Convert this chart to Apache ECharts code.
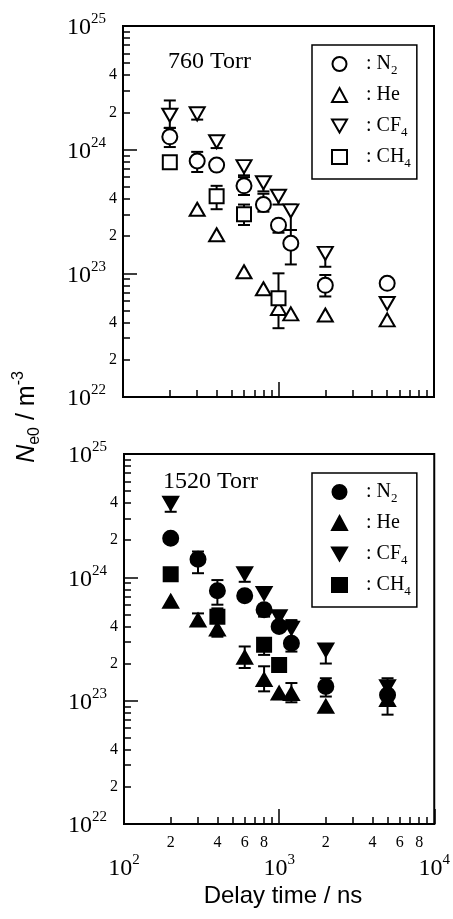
<!DOCTYPE html>
<html>
<head>
<meta charset="utf-8">
<script src="https://cdn.jsdelivr.net/npm/echarts@6/dist/echarts.min.js"></script>
<style>
  html, body { margin: 0; background: #fff; }
  #main { width: 453px; height: 919px; }
</style>
</head>
<body>
<div id="main"></div>
<script>
// each point: [delay time ns, Ne0 m^-3, error low, error high]  (null = no bar on that side)
const n2_760 = [
  [200, 1.27e24, 1.05e24, 1.5e24],
  [300, 8.1e23, 6.6e23, 9.6e23],
  [400, 7.5e23, null, null],
  [600, 5.1e23, 4.3e23, 6.0e23],
  [800, 3.6e23, 3.15e23, 4.4e23],
  [1000, 2.45e23, 2.13e23, 2.7e23],
  [1200, 1.75e23, 1.18e23, 2.24e23],
  [2000, 8.0e22, 6.5e22, 9.7e22],
  [5000, 8.3e22, null, null]
];
const he_760 = [
  [300, 3.3e23, null, null],
  [400, 2.05e23, null, null],
  [600, 1.03e23, null, null],
  [800, 7.5e22, null, null],
  [1000, 5.2e22, null, null],
  [1200, 4.7e22, null, null],
  [2000, 4.6e22, null, null],
  [5000, 4.2e22, null, null]
];
const cf4_760 = [
  [200, 1.9e24, 1.5e24, 2.5e24],
  [300, 1.95e24, 1.75e24, null],
  [400, 1.16e24, 1.03e24, null],
  [600, 7.3e23, 6.2e23, null],
  [800, 5.4e23, 4.6e23, null],
  [1000, 4.2e23, 3.6e23, null],
  [1200, 3.2e23, 2.24e23, 3.6e23],
  [2000, 1.45e23, 1.13e23, 1.6e23],
  [5000, 5.7e22, null, 6.1e22]
];
const ch4_760 = [
  [200, 7.9e23, 7.2e23, null],
  [400, 4.2e23, 3.3e23, 5.1e23],
  [600, 3.0e23, 2.46e23, 3.6e23],
  [1000, 6.3e22, 3.6e22, 1.0e23]
];

const n2_1520 = [
  [200, 2.07e24, null, null],
  [300, 1.40e24, 1.08e24, 1.62e24],
  [400, 7.8e23, 6.0e23, 9.5e23],
  [600, 7.1e23, null, null],
  [800, 5.45e23, 4.8e23, 6.0e23],
  [1000, 4.0e23, null, null],
  [1200, 2.92e23, 2.5e23, 4.4e23],
  [2000, 1.30e23, 1.08e23, 1.52e23],
  [5000, 1.11e23, 7.7e22, 1.52e23]
];
const he_1520 = [
  [200, 6.4e23, null, null],
  [300, 4.5e23, null, 5.1e23],
  [400, 3.8e23, null, null],
  [600, 2.25e23, 1.84e23, 2.75e23],
  [800, 1.48e23, 1.19e23, 1.9e23],
  [1000, 1.15e23, 1.03e23, null],
  [1200, 1.14e23, 9.7e22, 1.39e23],
  [2000, 9.0e22, null, null],
  [5000, 1.02e23, null, null]
];
const cf4_1520 = [
  [200, 4.0e24, 3.4e24, null],
  [600, 1.07e24, 9.2e23, null],
  [800, 7.4e23, null, null],
  [1000, 4.8e23, null, null],
  [1200, 3.87e23, null, 4.5e23],
  [2000, 2.58e23, 2.0e23, null],
  [5000, 1.30e23, null, null]
];
const ch4_1520 = [
  [200, 1.06e24, null, null],
  [400, 4.8e23, 3.3e23, 5.6e23],
  [800, 2.84e23, 2.35e23, 3.2e23],
  [1000, 1.95e23, null, null]
];

const gasLabels = [': N{sub|2}', ': He', ': CF{sub|4}', ': CH{sub|4}'];
const panelTitles = ['760 Torr', '1520 Torr'];

// axis ticks
const xDecades = [100, 1000, 10000];
const yDecades = [1e22, 1e23, 1e24, 1e25];
const minorMant = [2, 3, 4, 5, 6, 7, 8, 9];
const xLabelMant = [2, 4, 6, 8];
const yLabelMant = [2, 4];

const SERIF = '"Liberation Serif", "DejaVu Serif", serif';
const SANS = '"Liberation Sans", Arial, sans-serif';

function minorValues(decades, mants) {
  let out = [];
  decades.slice(0, -1).forEach(d => mants.forEach(m => out.push(m * d)));
  return out;
}
function mantissa(v) {
  return Math.round(v / Math.pow(10, Math.floor(Math.log10(v) + 1e-9)));
}
const powerRich = {
  b: { fontFamily: SERIF, fontSize: 24, lineHeight: 28, verticalAlign: 'bottom', color: '#000' },
  s: { fontFamily: SERIF, fontSize: 15, verticalAlign: 'top', color: '#000' }
};
function powerLabel(v) {
  return '{b|10}{s|' + Math.round(Math.log10(v)) + '}';
}

const grids = [
  { left: 123, top: 26, width: 311, height: 371 },
  { left: 124, top: 454, width: 314, height: 370 }
];

let xAxis = [], yAxis = [];
grids.forEach((g, i) => {
  const showX = i === 1;
  xAxis.push({
    type: 'log', gridIndex: i, position: 'bottom', min: 100, max: 10000,
    axisLine: { show: true, lineStyle: { color: '#000', width: 2 } },
    axisTick: { inside: true, length: 15, customValues: xDecades, lineStyle: { color: '#000', width: 1.5 } },
    axisLabel: { show: showX, customValues: xDecades, margin: 29, formatter: powerLabel, rich: powerRich },
    splitLine: { show: false }
  });
  xAxis.push({
    type: 'log', gridIndex: i, position: 'bottom', min: 100, max: 10000,
    axisLine: { show: false },
    axisTick: { inside: true, length: 7, customValues: minorValues(xDecades, minorMant), lineStyle: { color: '#000', width: 1.5 } },
    axisLabel: {
      show: showX, customValues: minorValues(xDecades, xLabelMant), margin: 11,
      formatter: v => String(mantissa(v)), fontFamily: SERIF, fontSize: 16, color: '#000'
    },
    splitLine: { show: false }
  });
  yAxis.push({
    type: 'log', gridIndex: i, position: 'left', min: 1e22, max: 1e25,
    axisLine: { show: true, lineStyle: { color: '#000', width: 2 } },
    axisTick: { inside: true, length: 14, customValues: yDecades, lineStyle: { color: '#000', width: 1.5 } },
    axisLabel: { customValues: yDecades, margin: 17, formatter: powerLabel, rich: powerRich },
    splitLine: { show: false }
  });
  yAxis.push({
    type: 'log', gridIndex: i, position: 'left', min: 1e22, max: 1e25,
    axisLine: { show: false },
    axisTick: { inside: true, length: 7, customValues: minorValues(yDecades, minorMant), lineStyle: { color: '#000', width: 1.5 } },
    axisLabel: {
      customValues: minorValues(yDecades, yLabelMant), margin: 6,
      formatter: v => String(mantissa(v)), fontFamily: SERIF, fontSize: 16, color: '#000'
    },
    splitLine: { show: false }
  });
});

const downTri = 'path://M0,0L20,0L10,17.3Z';
const panels = [
  { sets: [n2_760, he_760, cf4_760, ch4_760], fill: '#fff', tag: ' 760' },
  { sets: [n2_1520, he_1520, cf4_1520, ch4_1520], fill: '#000', tag: ' 1520' }
];
const shapes = [
  { symbol: 'circle', size: 15 },
  { symbol: 'triangle', size: [15, 13] },
  { symbol: downTri, size: [15, 13] },
  { symbol: 'rect', size: 14 }
];
const gasNames = ['N2', 'He', 'CF4', 'CH4'];

let series = [];
let legends = [];
panels.forEach((p, i) => {
  let bars = [];
  p.sets.forEach((pts, k) => {
    series.push({
      type: 'scatter', name: gasNames[k] + p.tag,
      xAxisIndex: i * 2, yAxisIndex: i * 2, z: 3,
      symbol: shapes[k].symbol, symbolSize: shapes[k].size,
      itemStyle: { color: p.fill, borderColor: '#000', borderWidth: 2, opacity: 1 },
      data: pts.map(d => [d[0], d[1]])
    });
    pts.forEach(d => {
      if (d[2] != null || d[3] != null) {
        bars.push([d[0], d[1], d[2] != null ? d[2] : d[1], d[3] != null ? d[3] : d[1]]);
      }
    });
  });
  series.push({
    type: 'custom', xAxisIndex: i * 2, yAxisIndex: i * 2, z: 2, silent: true,
    data: bars,
    encode: { x: 0, y: 1 },
    renderItem: function (params, api) {
      const x = api.value(0), y = api.value(1), lo = api.value(2), hi = api.value(3);
      const pl = api.coord([x, lo]), ph = api.coord([x, hi]);
      const w = 6, st = { stroke: '#000', lineWidth: 2 };
      let kids = [{ type: 'line', shape: { x1: pl[0], y1: pl[1], x2: ph[0], y2: ph[1] }, style: st }];
      if (lo < y) kids.push({ type: 'line', shape: { x1: pl[0] - w, y1: pl[1], x2: pl[0] + w, y2: pl[1] }, style: st });
      if (hi > y) kids.push({ type: 'line', shape: { x1: ph[0] - w, y1: ph[1], x2: ph[0] + w, y2: ph[1] }, style: st });
      return { type: 'group', children: kids };
    }
  });
  legends.push({
    orient: 'vertical', left: 312, top: i === 0 ? 45 : 473,
    data: gasNames.map(n => n + p.tag),
    formatter: name => gasLabels[gasNames.indexOf(name.split(' ')[0])],
    borderColor: '#000', borderWidth: 1.5,
    padding: [6, 6, 9, 19],
    itemGap: 5, itemWidth: 15, itemHeight: 14,
    selectedMode: false,
    textStyle: {
      color: '#000', fontFamily: SERIF, fontSize: 20,
      rich: {
        sub: { fontFamily: SERIF, fontSize: 13, verticalAlign: 'bottom', color: '#000' }
      },
      lineHeight: 26,
      padding: [0, 0, 0, 14]
    }
  });
});

const chart = echarts.init(document.getElementById('main'));
chart.setOption({
  animation: false,
  backgroundColor: '#fff',
  grid: grids.map(g => Object.assign({ show: true, borderColor: '#000', borderWidth: 2 }, g)),
  xAxis: xAxis,
  yAxis: yAxis,
  legend: legends,
  series: series,
  graphic: [
    { type: 'text', left: 168, top: 50, style: { text: panelTitles[0], font: '24px ' + SERIF, fill: '#000' } },
    { type: 'text', left: 163, top: 470, style: { text: panelTitles[1], font: '24px ' + SERIF, fill: '#000' } },
    {
      type: 'text', x: 27, y: 417, rotation: Math.PI / 2,
      style: {
        text: '{n|N}{s|e0}{t| / m}{p|-3}', align: 'center', verticalAlign: 'middle', fill: '#000',
        rich: {
          n: { fontFamily: SANS, fontSize: 25, fontStyle: 'italic', lineHeight: 32, fill: '#000' },
          s: { fontFamily: SANS, fontSize: 16, verticalAlign: 'bottom', fill: '#000' },
          t: { fontFamily: SANS, fontSize: 25, lineHeight: 32, fill: '#000' },
          p: { fontFamily: SANS, fontSize: 16, verticalAlign: 'top', fill: '#000' }
        }
      }
    },
    {
      type: 'text', x: 283, y: 896,
      style: { text: 'Delay time / ns', align: 'center', verticalAlign: 'middle', font: '24px ' + SANS, fill: '#000' }
    }
  ]
});
</script>
</body>
</html>
